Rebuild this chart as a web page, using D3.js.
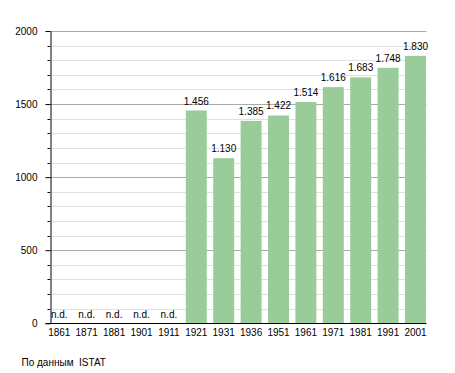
<!DOCTYPE html>
<html>
<head>
<meta charset="utf-8">
<script src="https://cdn.jsdelivr.net/npm/d3@7"></script>
<style>
body{margin:0;background:#fff;}
text{font-family:"Liberation Sans",Arial,sans-serif;font-size:10px;fill:#000;}
</style>
</head>
<body>
<svg id="c" width="455" height="373"></svg>
<script>
const years = ["1861","1871","1881","1901","1911","1921","1931","1936","1951","1961","1971","1981","1991","2001"];
const population = [null,null,null,null,null,1456,1130,1385,1422,1514,1616,1683,1748,1830];
const valueLabels = ["n.d.","n.d.","n.d.","n.d.","n.d.","1.456","1.130","1.385","1.422","1.514","1.616","1.683","1.748","1.830"];
const yTicks = [0,500,1000,1500,2000];
const source = "По данным  ISTAT";

const svg = d3.select("#c");
const x = d3.scaleBand().domain(years).range([45.6,429.2]).paddingInner(0.235).paddingOuter(0.1175);
const y = d3.scaleLinear().domain([0,2000]).range([323.3,31]);
const gx0 = 50, gx1 = 426.5;

const minor = d3.range(100,2000,100).filter(v=>v%500!==0);
// minor grid
svg.append("g").selectAll("line").data(minor).join("line")
  .attr("x1",gx0).attr("x2",gx1).attr("y1",d=>Math.round(y(d))+0.5).attr("y2",d=>Math.round(y(d))+0.5)
  .attr("stroke","#e0e0e0").attr("stroke-width",1);
// major grid
svg.append("g").selectAll("line").data(yTicks.filter(d=>d>0)).join("line")
  .attr("x1",gx0).attr("x2",gx1).attr("y1",d=>Math.round(y(d))+0.5).attr("y2",d=>Math.round(y(d))+0.5)
  .attr("stroke","#aaaaaa").attr("stroke-width",1);

// bars
svg.append("g").selectAll("rect").data(years.map((yr,i)=>({yr,v:population[i]})).filter(d=>d.v!==null)).join("rect")
  .attr("x",d=>x(d.yr)).attr("width",x.bandwidth())
  .attr("y",d=>y(d.v)).attr("height",d=>y(0)-y(d.v))
  .attr("fill","#99cc99");

// value labels
svg.append("g").selectAll("text").data(years.map((yr,i)=>({yr,v:population[i],l:valueLabels[i]}))).join("text")
  .attr("x",d=>x(d.yr)+x.bandwidth()/2)
  .attr("y",d=>d.v===null ? y(0)-5 : y(d.v)-6)
  .attr("text-anchor","middle").text(d=>d.l);

// y axis
const yAxis = d3.axisLeft(y).tickValues(yTicks).tickSize(5).tickSizeOuter(0).tickFormat(d3.format("d"));
const ga = svg.append("g").attr("transform",`translate(${gx0+0.5},0)`).call(yAxis);
ga.attr("font-family",null).attr("font-size",null);
ga.select(".domain").attr("stroke","#000");
ga.selectAll(".tick line").attr("stroke","#000");
ga.selectAll(".tick text").attr("x",-13).attr("dy","0.35em");
// minor ticks
svg.append("g").selectAll("line").data(minor).join("line")
  .attr("x1",gx0-2.5).attr("x2",gx0).attr("y1",d=>Math.round(y(d))+0.5).attr("y2",d=>Math.round(y(d))+0.5)
  .attr("stroke","#000");

// x axis
svg.append("line").attr("x1",45.5).attr("x2",gx1).attr("y1",323.5).attr("y2",323.5).attr("stroke","#000");
svg.append("g").selectAll("text").data(years).join("text")
  .attr("x",d=>x(d)+x.bandwidth()/2).attr("y",335.5).attr("text-anchor","middle").text(d=>d);

svg.append("text").attr("x",21.5).attr("y",366).style("white-space","pre").text(source);
</script>
</body>
</html>
